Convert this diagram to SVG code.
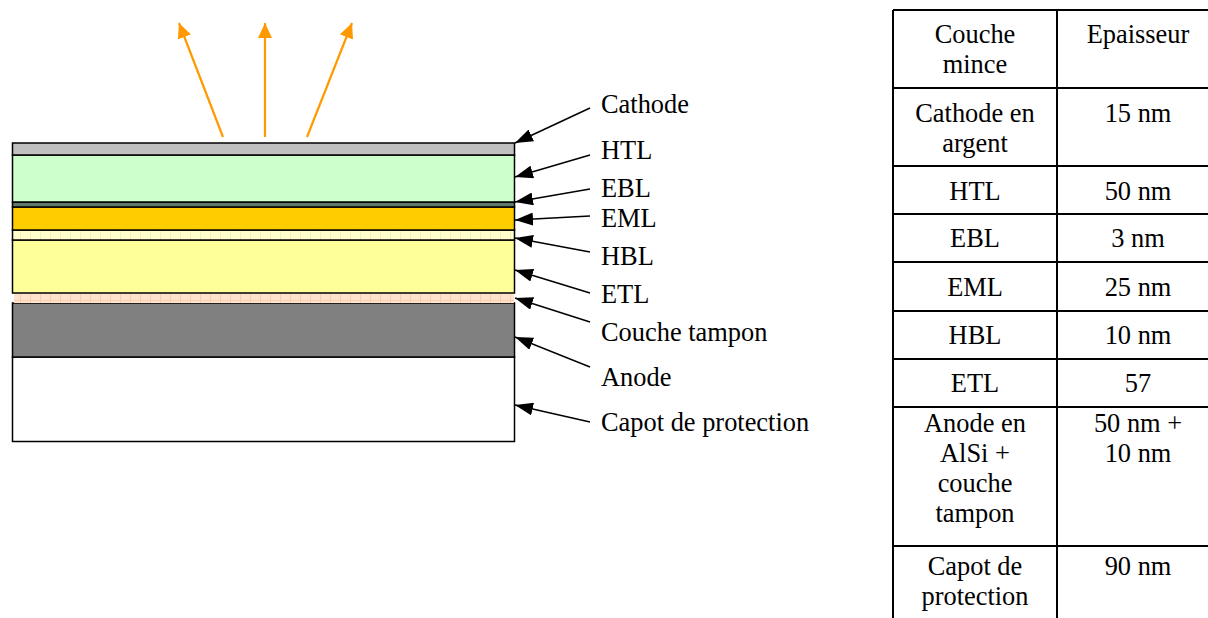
<svg xmlns="http://www.w3.org/2000/svg" width="1208" height="618" viewBox="0 0 1208 618">
<style>
text{font-family:"Liberation Serif","Times New Roman",serif;font-size:26.4px;fill:#000}
.tc{text-anchor:middle}
.layer{stroke:#000;stroke-width:1.5}
.lbl{stroke:#000;stroke-width:1.5;fill:none;marker-end:url(#ah)}
.light{stroke:#FF9900;stroke-width:2.2;fill:none;marker-end:url(#oh)}
.grid{stroke:#000;stroke-width:2;fill:none}
</style>
<defs>
<marker id="ah" viewBox="0 0 18 13" refX="18" refY="6.5" markerWidth="18" markerHeight="13" markerUnits="userSpaceOnUse" orient="auto">
<path d="M0,0 L18,6.5 L0,13 Z" fill="#000"/>
</marker>
<marker id="oh" viewBox="0 0 15 14" refX="15" refY="7" markerWidth="15" markerHeight="14" markerUnits="userSpaceOnUse" orient="auto">
<path d="M0,0 L15,7 L0,14 Z" fill="#FF9900"/>
</marker>
<pattern id="pHBL" width="10" height="10" patternUnits="userSpaceOnUse">
<rect width="10" height="10" fill="#FFFFCC"/>
<path d="M0,0.5 H10 M0.5,0 V10" stroke="#F4EFBC" stroke-width="1"/>
</pattern>
<pattern id="pTamp" width="10" height="10" patternUnits="userSpaceOnUse">
<rect width="10" height="10" fill="#FFE3CC"/>
<path d="M0,0.5 H10 M0.5,0 V10" stroke="#F7CFB0" stroke-width="1"/>
</pattern>
</defs>

<g id="light-arrows">
<line class="light" x1="223" y1="137" x2="179" y2="23"/>
<line class="light" x1="265" y1="137" x2="265" y2="23"/>
<line class="light" x1="307" y1="137" x2="352" y2="23"/>
</g>

<g id="stack">
<rect id="capot" class="layer" x="12.5" y="357" width="502" height="84.5" fill="#FFFFFF"/>
<rect id="anode" class="layer" x="12.5" y="303" width="502" height="54" fill="#808080"/>
<rect id="tampon" x="14" y="293" width="500" height="10" fill="url(#pTamp)"/>
<rect id="etl" class="layer" x="12.5" y="240" width="502" height="53" fill="#FFFF99"/>
<rect id="hbl" class="layer" x="12.5" y="230" width="502" height="10" fill="url(#pHBL)"/>
<rect id="eml" class="layer" x="12.5" y="207" width="502" height="23" fill="#FFCC00"/>
<rect id="ebl" class="layer" x="12.5" y="202" width="502" height="5" fill="#5F7A6C"/>
<rect id="htl" class="layer" x="12.5" y="155" width="502" height="47" fill="#CCFFCC"/>
<rect id="cathode" class="layer" x="12.5" y="143" width="502" height="12" fill="#C0C0C0"/>
</g>

<g id="connectors">
<line class="lbl" x1="590" y1="108" x2="515" y2="143"/>
<line class="lbl" x1="590" y1="155" x2="515" y2="177"/>
<line class="lbl" x1="590" y1="189" x2="515" y2="202"/>
<line class="lbl" x1="590" y1="216" x2="515" y2="220"/>
<line class="lbl" x1="590" y1="252" x2="515" y2="238"/>
<line class="lbl" x1="590" y1="293" x2="515" y2="270"/>
<line class="lbl" x1="590" y1="322" x2="515" y2="298"/>
<line class="lbl" x1="590" y1="367" x2="515" y2="337"/>
<line class="lbl" x1="590" y1="422" x2="515" y2="405"/>
</g>

<g id="labels">
<text x="601" y="113">Cathode</text>
<text x="601" y="159">HTL</text>
<text x="601" y="197">EBL</text>
<text x="601" y="227">EML</text>
<text x="601" y="265">HBL</text>
<text x="601" y="303">ETL</text>
<text x="601" y="341">Couche tampon</text>
<text x="601" y="386">Anode</text>
<text x="601" y="431">Capot de protection</text>
</g>

<g id="table">
<path class="grid" d="M893,10 V618 M1057,10 V618 M893,10 H1208 M893,88 H1208 M893,166 H1208 M893,214 H1208 M893,262 H1208 M893,311 H1208 M893,359 H1208 M893,407 H1208 M893,546 H1208"/>
<text class="tc" x="975" y="43">Couche</text>
<text class="tc" x="975" y="73">mince</text>
<text class="tc" x="1138" y="43">Epaisseur</text>
<text class="tc" x="975" y="122">Cathode en</text>
<text class="tc" x="975" y="152">argent</text>
<text class="tc" x="1138" y="122">15 nm</text>
<text class="tc" x="975" y="200">HTL</text>
<text class="tc" x="1138" y="200">50 nm</text>
<text class="tc" x="975" y="247">EBL</text>
<text class="tc" x="1138" y="247">3 nm</text>
<text class="tc" x="975" y="296">EML</text>
<text class="tc" x="1138" y="296">25 nm</text>
<text class="tc" x="975" y="344">HBL</text>
<text class="tc" x="1138" y="344">10 nm</text>
<text class="tc" x="975" y="392">ETL</text>
<text class="tc" x="1138" y="392">57</text>
<text class="tc" x="975" y="432">Anode en</text>
<text class="tc" x="975" y="462">AlSi +</text>
<text class="tc" x="975" y="492">couche</text>
<text class="tc" x="975" y="522">tampon</text>
<text class="tc" x="1138" y="432">50 nm +</text>
<text class="tc" x="1138" y="462">10 nm</text>
<text class="tc" x="975" y="575">Capot de</text>
<text class="tc" x="975" y="605">protection</text>
<text class="tc" x="1138" y="575">90 nm</text>
</g>
</svg>
